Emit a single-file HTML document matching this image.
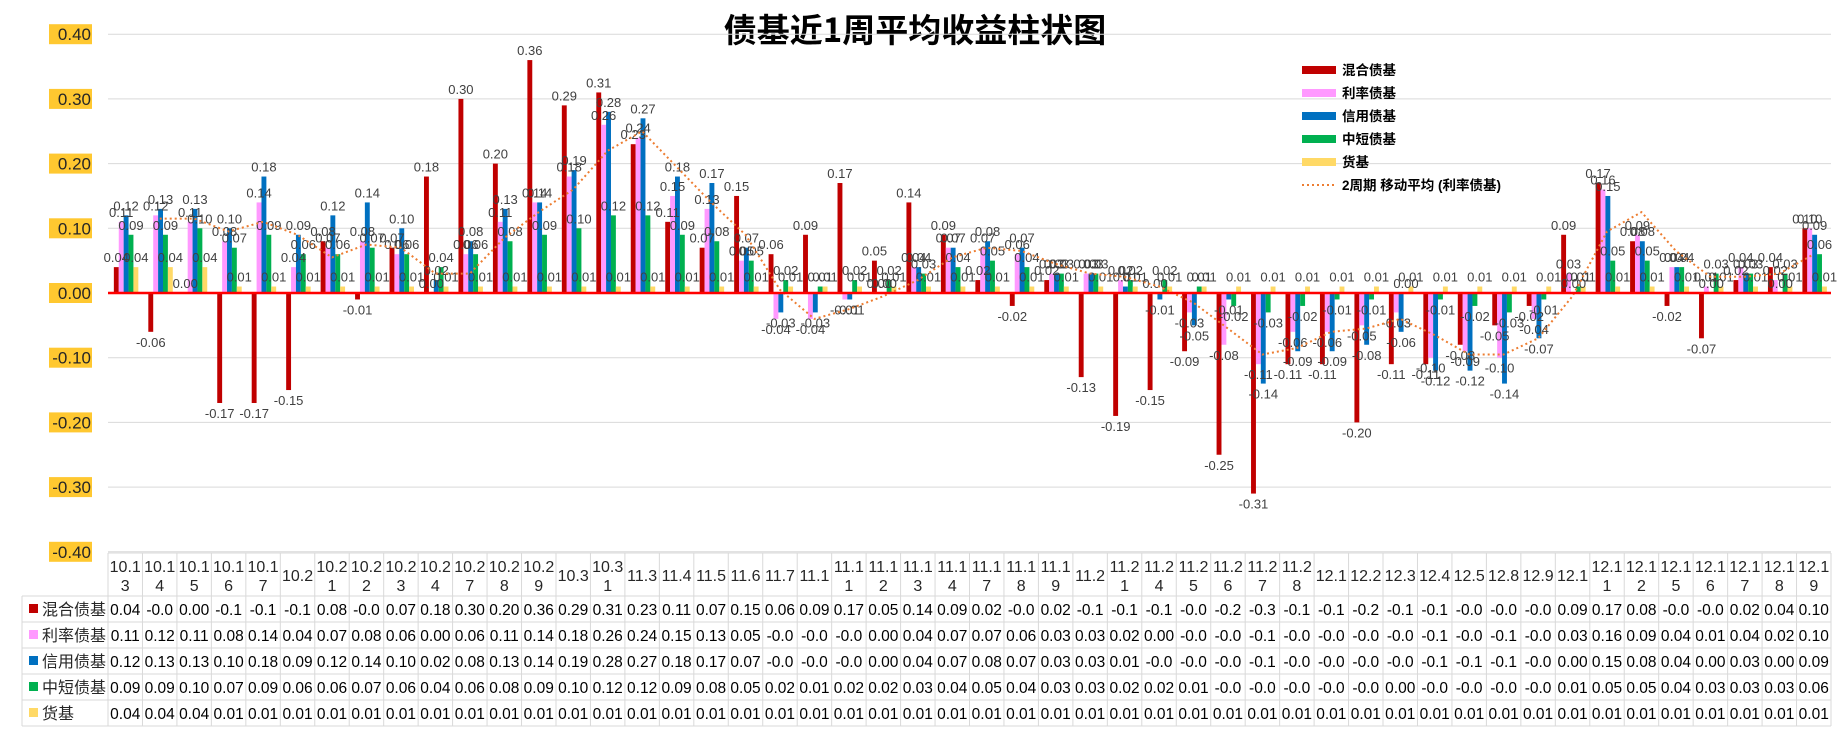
<!DOCTYPE html>
<html><head><meta charset="utf-8"><style>
html,body{margin:0;padding:0;background:#fff;}
svg{display:block;font-family:"Liberation Sans","Noto Sans CJK SC",sans-serif;}
</style></head><body>
<svg id="chart" width="1840" height="734" viewBox="0 0 1840 734" xmlns="http://www.w3.org/2000/svg">
<rect x="0" y="0" width="1840" height="734" fill="#fff"/>
<text x="915" y="42" text-anchor="middle" font-size="33" font-weight="bold" fill="#000" font-family="'Noto Sans CJK SC',sans-serif">债基近1周平均收益柱状图</text>
<g id="grid"></g><g id="bars"></g><g id="labels"></g><g id="ma"></g><g id="yaxis"></g><g id="legend"></g><g id="table"></g>
</svg>
<script>
const categories = ["10.13","10.14","10.15","10.16","10.17","10.2","10.21","10.22","10.23","10.24","10.27","10.28","10.29","10.3","10.31","11.3","11.4","11.5","11.6","11.7","11.1","11.11","11.12","11.13","11.14","11.17","11.18","11.19","11.2","11.21","11.24","11.25","11.26","11.27","11.28","12.1","12.2","12.3","12.4","12.5","12.8","12.9","12.1","12.11","12.12","12.15","12.16","12.17","12.18","12.19"];
const hunhe  = [0.04,-0.06,0.00,-0.17,-0.17,-0.15,0.08,-0.01,0.07,0.18,0.30,0.20,0.36,0.29,0.31,0.23,0.11,0.07,0.15,0.06,0.09,0.17,0.05,0.14,0.09,0.02,-0.02,0.02,-0.13,-0.19,-0.15,-0.09,-0.25,-0.31,-0.11,-0.11,-0.20,-0.11,-0.11,-0.08,-0.05,-0.02,0.09,0.17,0.08,-0.02,-0.07,0.02,0.04,0.10];
const lilv   = [0.11,0.12,0.11,0.08,0.14,0.04,0.07,0.08,0.06,0.00,0.06,0.11,0.14,0.18,0.26,0.24,0.15,0.13,0.05,-0.04,-0.04,-0.01,0.00,0.04,0.07,0.07,0.06,0.03,0.03,0.02,0.00,-0.03,-0.08,-0.11,-0.06,-0.06,-0.05,-0.03,-0.10,-0.09,-0.10,-0.04,0.03,0.16,0.09,0.04,0.01,0.04,0.02,0.10];
const xinyong= [0.12,0.13,0.13,0.10,0.18,0.09,0.12,0.14,0.10,0.02,0.08,0.13,0.14,0.19,0.28,0.27,0.18,0.17,0.07,-0.03,-0.03,-0.01,0.00,0.04,0.07,0.08,0.07,0.03,0.03,0.01,-0.01,-0.05,-0.01,-0.14,-0.09,-0.09,-0.08,-0.06,-0.12,-0.12,-0.14,-0.07,0.00,0.15,0.08,0.04,0.00,0.03,0.00,0.09];
const zhongduan=[0.09,0.09,0.10,0.07,0.09,0.06,0.06,0.07,0.06,0.04,0.06,0.08,0.09,0.10,0.12,0.12,0.09,0.08,0.05,0.02,0.01,0.02,0.02,0.03,0.04,0.05,0.04,0.03,0.03,0.02,0.02,0.01,-0.02,-0.03,-0.02,-0.01,-0.01,0.00,-0.01,-0.02,-0.03,-0.01,0.01,0.05,0.05,0.04,0.03,0.03,0.03,0.06];
const huoji  = [0.04,0.04,0.04,0.01,0.01,0.01,0.01,0.01,0.01,0.01,0.01,0.01,0.01,0.01,0.01,0.01,0.01,0.01,0.01,0.01,0.01,0.01,0.01,0.01,0.01,0.01,0.01,0.01,0.01,0.01,0.01,0.01,0.01,0.01,0.01,0.01,0.01,0.01,0.01,0.01,0.01,0.01,0.01,0.01,0.01,0.01,0.01,0.01,0.01,0.01];
const seriesNames = ["混合债基","利率债基","信用债基","中短债基","货基"];
const yTicks = [0.40,0.30,0.20,0.10,0.00,-0.10,-0.20,-0.30,-0.40];

const NS="http://www.w3.org/2000/svg";
const colors=["#c00000","#ff99ff","#0070c0","#00b050","#ffd966"];
const series=[hunhe,lilv,xinyong,zhongduan,huoji];
const X0=108,X1=1831,N=categories.length,W=(X1-X0)/N;
const Y0=293,PX=647; // px per 1.0
function yS(v){return Y0-v*PX;}
function xG(i){return X0+i*W;}
function mk(tag,attrs,parent){const e=document.createElementNS(NS,tag);for(const k in attrs)e.setAttribute(k,attrs[k]);parent.appendChild(e);return e;}
const g=id=>document.getElementById(id);

// grid + y axis
yTicks.forEach(t=>{
  const y=yS(t);
  if(t!==0){const l=mk('line',{x1:X0,x2:X1,y1:y,y2:y,stroke:'#d9d9d9','stroke-width':1},g('grid'));
  
  }
  const r=mk('rect',{x:49,y:y-10,width:43,height:20,fill:'#ffc830'},g('yaxis'));
  
  
  const tx=mk('text',{x:91,y:y+6,'text-anchor':'end','font-size':17,fill:'#262626'},g('yaxis'));
  
  
  tx.textContent=t.toFixed(2);
});

// bars
const bw=W*0.142, off=W*0.17;
series.forEach((s,k)=>{
  s.forEach((v,i)=>{
    const x=xG(i)+off+k*bw;
    const y1=yS(Math.max(v,0)),y2=yS(Math.min(v,0));
    const r=mk('rect',{x:x,y:y1,width:bw,height:Math.max(y2-y1,0),fill:colors[k]},g('bars'));
    
    
    const t=mk('text',{x:x+bw/2,y:v>=0?yS(v)-5:yS(v)+15,'text-anchor':'middle','font-size':13,fill:'#404040'},g('labels'));
    
    
    t.textContent=v.toFixed(2);
  });
});
// zero line
const zl=mk('line',{x1:X0,x2:X1,y1:Y0,y2:Y0,stroke:'#ff0000','stroke-width':2.5},g('grid').parentNode);



// moving average of lilv
let pts=[];
for(let i=1;i<N;i++){const m=(lilv[i-1]+lilv[i])/2;pts.push((xG(i)+W/2).toFixed(1)+','+yS(m).toFixed(1));}
const pl=mk('polyline',{points:pts.join(' '),fill:'none',stroke:'#ed7d31','stroke-width':2,'stroke-dasharray':'2,3'},g('ma'));



// legend
const legNames=["混合债基","利率债基","信用债基","中短债基","货基","2周期 移动平均 (利率债基)"];
legNames.forEach((n,k)=>{
  const y=70+k*23;
  if(k<5){const r=mk('rect',{x:1302,y:y-4,width:34,height:8,fill:colors[k]},g('legend'));
    
    }
  else{const l=mk('line',{x1:1302,x2:1336,y1:y,y2:y,stroke:'#ed7d31','stroke-width':2,'stroke-dasharray':'2,3'},g('legend'));
    
    }
  const t=mk('text',{x:1342,y:y+5,'font-size':13.5,'font-weight':'bold',fill:'#000'},g('legend'));
  
  
  t.textContent=n;
});

// data table
const T=g('table'),HT=553,HB=596,RH=26;
const tb=HB+RH*5;
const lc='#d9d9d9';
function ln(x1,y1,x2,y2){const l=mk('line',{x1:x1,y1:y1,x2:x2,y2:y2,stroke:lc,'stroke-width':1},T);
  
  }
ln(X0,HT,X1,HT);
for(let r=0;r<=5;r++)ln(22,HB+r*RH,X1,HB+r*RH);
ln(22,HB,22,tb);
for(let i=0;i<=N;i++)ln(xG(i),HT,xG(i),tb);
categories.forEach((c,i)=>{
  const cx=xG(i)+W/2;
  if(c.length>4){
    const a=mk('text',{x:cx,y:HT+19,'text-anchor':'middle','font-size':16,fill:'#262626'},T);
    
    
    a.textContent=c.slice(0,4);
    const b=mk('text',{x:cx,y:HT+38,'text-anchor':'middle','font-size':16,fill:'#262626'},T);
    
    
    b.textContent=c.slice(4);
  }else{
    const a=mk('text',{x:cx,y:HT+28,'text-anchor':'middle','font-size':16,fill:'#262626'},T);
    
    
    a.textContent=c;
  }
});
series.forEach((s,k)=>{
  const y=HB+k*RH+19;
  const sw=mk('rect',{x:29,y:y-11,width:9,height:9,fill:colors[k]},T);
  
  
  const lt=mk('text',{x:42,y:y,'font-size':16,fill:'#262626','font-family':"'Noto Sans CJK SC',sans-serif"},T);
  
  
  lt.textContent=seriesNames[k];
  s.forEach((v,i)=>{
    const t=mk('text',{x:xG(i)+W/2,y:y,'text-anchor':'middle','font-size':15.5,fill:'#000'},T);
    
    
    t.textContent=v.toFixed(2).slice(0,4);
  });
});
</script>
</body></html>
